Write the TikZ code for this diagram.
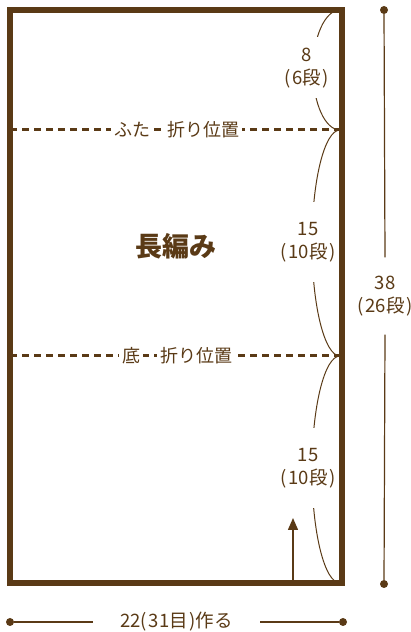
\documentclass[tikz,border=0pt]{standalone}
\usepackage{fontspec}
\setmainfont{Noto Sans CJK JP}
\usetikzlibrary{arrows.meta}
\definecolor{br}{HTML}{5A3A16}
\newcommand{\lp}{(\kern1.5pt}
\newcommand{\rp}{\kern1.5pt)}
\begin{document}
\begin{tikzpicture}[x=1pt,y=1pt,
  every node/.style={text=br},
  lbl/.style={font=\fontsize{18.5}{23}\selectfont, align=center, fill=white, inner sep=0pt},
  foldlbl/.style={font=\fontsize{18}{22}\selectfont, fill=white, inner xsep=3pt, inner ysep=2pt},
  dimline/.style={draw=br, line width=1.2pt},
  arcline/.style={draw=br, line width=1pt},
  fold/.style={draw=br, line width=3pt, dash pattern=on 7pt off 5pt},
  dotn/.style={circle, fill=br, minimum size=8pt, inner sep=0pt},
  wall/.style={draw=br, line width=6pt, minimum width=332pt, minimum height=573pt, inner sep=0pt}]
\useasboundingbox (0,0) rectangle (411,632);
% brackets (arcs)
\draw[arcline] (340,622) arc[start angle=90,end angle=270,x radius=27,y radius=60];
\draw[arcline] (340,502) arc[start angle=90,end angle=270,x radius=28,y radius=113];
\draw[arcline] (340,276) arc[start angle=90,end angle=270,x radius=28,y radius=113.5];
% fold lines
\coordinate (f1l) at (10,502); \coordinate (f1r) at (341,502);
\coordinate (f2l) at (10,276); \coordinate (f2r) at (341,276);
\draw[fold] (f1l) -- (f1r);
\draw[fold] (f2l) -- (f2r);
\node[foldlbl] (f1a) at (132,502) {ふた};
\node[foldlbl] (f1b) at (203,502) {折り位置};
\node[foldlbl] (f2a) at (131,276) {底};
\node[foldlbl] (f2b) at (196,276) {折り位置};
% segment labels
\node[lbl, minimum width=54pt, minimum height=61pt] (s1) at (307,564) {8\\\lp 6段\rp};
\node[lbl, minimum width=58pt, minimum height=80pt] (s2) at (308,390) {15\\\lp 10段\rp};
\node[lbl, minimum width=58pt, minimum height=80pt] (s3) at (308,164) {15\\\lp 10段\rp};
% title
\node[font=\fontsize{27}{31}\selectfont\bfseries] (title) at (176,386) {長編み};
% arrow
\coordinate (a0) at (293,49); \coordinate (a1) at (293,114);
\draw[draw=br, line width=1.5pt, -{Triangle[width=10pt,length=12pt]}, color=br] (a0) -- (a1);
% body
\node[wall] (body) at (176,335.5) {};
% vertical dimension
\node[dotn] (vt) at (384,622) {};
\node[dotn] (vb) at (384,48) {};
\node[lbl, minimum width=60pt, minimum height=77pt] (l38) at (385,336) {38\\\lp 26段\rp};
\draw[dimline] (vt) -- (l38.north);
\draw[dimline] (l38.south) -- (vb);
% horizontal dimension
\node[dotn] (hl) at (10,10) {};
\node[dotn] (hr) at (343,10) {};
\node[lbl, minimum width=167pt, minimum height=14pt] (l22) at (176.5,10) {22\lp 31目\rp 作る};
\draw[dimline] (hl) -- (l22.west);
\draw[dimline] (l22.east) -- (hr);
\end{tikzpicture}
\end{document}
